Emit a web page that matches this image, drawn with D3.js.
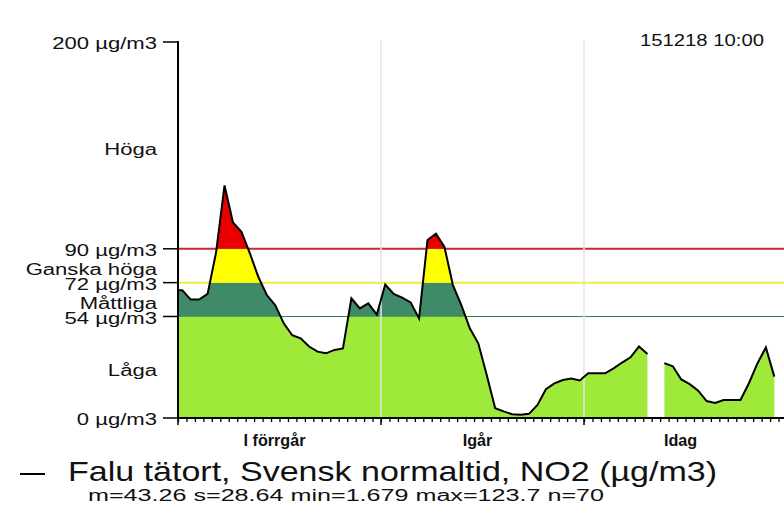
<!DOCTYPE html>
<html><head><meta charset="utf-8">
<script src="https://cdn.jsdelivr.net/npm/d3@7"></script>
<style>body{margin:0;background:#fff}svg{display:block}</style>
</head><body>
<svg id="chart" width="784" height="514"></svg>
<script>
// ---- data ----
const hours = [0.5,1.5,2.5,3.5,4.5,5.5,6.5,7.5,8.5,9.5,10.5,11.5,12.5,13.5,14.5,15.5,16.5,17.5,18.5,19.5,20.5,21.5,22.5,23.5,
  24.5,25.5,26.5,27.5,28.5,29.5,30.5,31.5,32.5,33.5,34.5,35.5,36.5,37.5,38.5,39.5,40.5,41.5,42.5,43.5,44.5,45.5,46.5,47.5,
  48.5,49.5,50.5,51.5,52.5,53.5,54.5,55.5,56.5,57.5,58.5,59.5,60.5,61.5,62.5,63.5,64.5,65.5,66.5,67.5,68.5,69.5,70.5];
const no2 = [68,63,63,66,88,123.7,104,99,87.6,75,65.4,60,50.4,44,42.4,38,35.3,34.4,36.2,37,63.7,58.3,61,55,
  71,66,64,61.5,53,94.7,98,91,70.7,60,47.7,39.7,22.9,5.2,3.5,2.0,1.679,2.2,6.9,15.3,18.4,20.2,21,20,
  23.8,23.8,23.8,26.4,29.5,32.3,38,34,null,29.2,27.5,20.5,18,14.5,9,8,9.6,9.6,9.6,18.5,29,37.5,22];
const dayStarts = [0,24,48];
const dayLabels = ["I förrgår","Igår","Idag"];
const levelTicks = [0,54,72,90,200];
const levelTickLabels = ["0 µg/m3","54 µg/m3","72 µg/m3","90 µg/m3","200 µg/m3"];
const bandNames = ["Låga","Måttliga","Ganska höga","Höga"];
const bandLow = [0,54,72,90];
const bandHigh = [54,72,90,200];
const bandColors = ["#9fe93a","#3f8b69","#ffff00","#e80000"];
const thresholdValues = [54,72,90];
const thresholdColors = ["#2f7d5d","#eeee3c","#c8283a"];
const seriesName = "Falu tätort, Svensk normaltid, NO2 (µg/m3)";
const statsText = "m=43.26 s=28.64 min=1.679 max=123.7 n=70";
const stampText = "151218 10:00";

// ---- layout ----
const svg = d3.select("#chart");
const X0 = 178, Y0 = 418, Ytop = 42;
const x = d3.scaleLinear().domain([0,72]).range([X0, 787]);
const y = d3.scaleLinear().domain([0,200]).range([Y0, Ytop]);
const font = "'Liberation Sans', Arial, sans-serif";

function stretch(sel, f){
  sel.each(function(){
    const w = this.getComputedTextLength();
    d3.select(this).attr("textLength", w*f).attr("lengthAdjust","spacingAndGlyphs");
  });
}

const pts = hours.map((h,i)=>({h, v: no2[i]}));
const drawPts = [{h:0, v:no2[0]}].concat(pts);

// threshold lines (behind the area)
thresholdValues.forEach((t,i)=>{
  svg.append("line").attr("x1",X0).attr("x2",784).attr("y1",y(t)).attr("y2",y(t))
    .attr("stroke",thresholdColors[i]).attr("stroke-width", i===0?1.2:2);
});

// banded area
const defs = svg.append("defs");
const area = d3.area().defined(d=>d.v!=null).x(d=>x(d.h)).y0(y(0)).y1(d=>y(d.v));
bandLow.forEach((lo,i)=>{
  const id = "band"+i;
  defs.append("clipPath").attr("id",id).append("rect")
    .attr("x",0).attr("width",784).attr("y",y(bandHigh[i])).attr("height",y(lo)-y(bandHigh[i]));
  svg.append("path").datum(drawPts).attr("d",area).attr("fill",bandColors[i])
    .attr("clip-path",`url(#${id})`);
});

// day grid lines
dayStarts.slice(1).forEach(d=>{
  svg.append("line").attr("x1",x(d)).attr("x2",x(d)).attr("y1",Ytop-2).attr("y2",Y0)
    .attr("stroke","#e4e4e4").attr("stroke-width",1.5);
});

// data line
const line = d3.line().defined(d=>d.v!=null).x(d=>x(d.h)).y(d=>y(d.v));
svg.append("path").datum(drawPts).attr("d",line).attr("fill","none")
  .attr("stroke","#000").attr("stroke-width",2).attr("stroke-linejoin","miter");

// y axis
svg.append("line").attr("x1",X0).attr("x2",X0).attr("y1",Ytop-1).attr("y2",Y0+1)
  .attr("stroke","#000").attr("stroke-width",2);
levelTicks.forEach((t,i)=>{
  svg.append("line").attr("x1",X0-15).attr("x2",X0).attr("y1",y(t)).attr("y2",y(t))
    .attr("stroke","#000").attr("stroke-width",1.5);
  svg.append("text").attr("class","ylab").attr("x",157).attr("y",y(t)+3).attr("text-anchor","end")
    .attr("dominant-baseline","middle").attr("font-family",font).attr("font-size",16)
    .attr("fill","#111").text(levelTickLabels[i]);
});
bandNames.forEach((n,i)=>{
  svg.append("text").attr("class","ylab").attr("x",157).attr("y",y((bandLow[i]+bandHigh[i])/2)+5).attr("text-anchor","end")
    .attr("dominant-baseline","middle").attr("font-family",font).attr("font-size",16)
    .attr("fill","#111").text(n);
});
stretch(svg.selectAll(".ylab"), 1.38);

// x axis
const gx = svg.append("g").attr("transform",`translate(0,${Y0})`);
gx.call(d3.axisBottom(x).tickValues(d3.range(0,73)).tickSize(4).tickFormat(""));
gx.call(g=>g.select(".domain").remove());
gx.selectAll(".tick line").attr("stroke","#000").attr("stroke-width",1.3);
svg.append("line").attr("x1",X0).attr("x2",784).attr("y1",Y0).attr("y2",Y0)
  .attr("stroke","#000").attr("stroke-width",2);
dayStarts.forEach(d=>{
  svg.append("line").attr("x1",x(d)).attr("x2",x(d)).attr("y1",Y0).attr("y2",Y0+7)
    .attr("stroke","#000").attr("stroke-width",1.5);
});
dayLabels.forEach((l,i)=>{
  svg.append("text").attr("class","dlab").attr("x",x(dayStarts[i]+12)-5).attr("y",446).attr("text-anchor","middle")
    .attr("font-family",font).attr("font-size",17).attr("font-weight","bold").attr("fill","#111")
    .text(l);
});
stretch(svg.selectAll(".dlab"), 0.95);

// timestamp
svg.append("text").attr("x",764).attr("y",46).attr("text-anchor","end")
  .attr("font-family",font).attr("font-size",16).attr("fill","#111")
  .attr("textLength",124).attr("lengthAdjust","spacingAndGlyphs").text(stampText);

// legend
svg.append("line").attr("x1",20).attr("x2",45).attr("y1",474).attr("y2",474)
  .attr("stroke","#000").attr("stroke-width",2);
svg.append("text").attr("x",68).attr("y",481).attr("font-family",font).attr("font-size",28)
  .attr("fill","#111").attr("textLength",649).attr("lengthAdjust","spacingAndGlyphs").text(seriesName);
svg.append("text").attr("x",88).attr("y",501).attr("font-family",font).attr("font-size",16)
  .attr("fill","#111").attr("textLength",516).attr("lengthAdjust","spacingAndGlyphs").text(statsText);
</script>
</body></html>
